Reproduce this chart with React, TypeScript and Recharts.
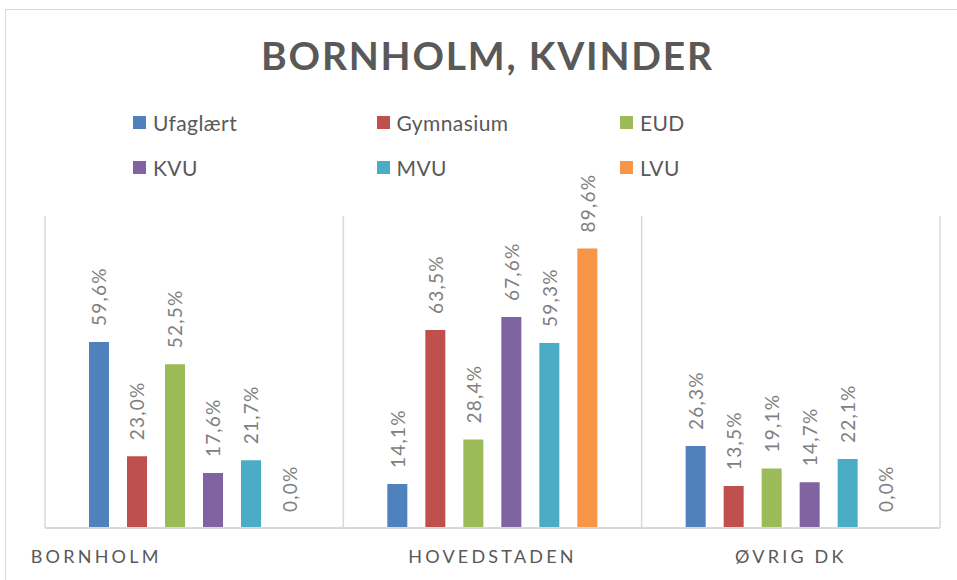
import React from "react";
import { BarChart, Bar, XAxis, YAxis, CartesianGrid, Rectangle } from "recharts";

const regions = ["BORNHOLM", "HOVEDSTADEN", "ØVRIG DK"];
const seriesNames = ["Ufaglært", "Gymnasium", "EUD", "KVU", "MVU", "LVU"];
const seriesColors = ["#4f81bd", "#c0504d", "#9bbb59", "#8064a2", "#4bacc6", "#f79646"];

const ufaglaert = [59.6, 14.1, 26.3];
const gymnasium = [23.0, 63.5, 13.5];
const eud = [52.5, 28.4, 19.1];
const kvu = [17.6, 67.6, 14.7];
const mvu = [21.7, 59.3, 22.1];
const lvu = [0.0, 89.6, 0.0];

const seriesValues = [ufaglaert, gymnasium, eud, kvu, mvu, lvu];

const data = regions.map((region, i) => {
  const row: Record<string, string | number> = { region };
  seriesNames.forEach((name, s) => {
    row[name] = seriesValues[s][i];
  });
  return row;
});

const FONT = "Lato, 'Open Sans', sans-serif";

function fmt(v: number) {
  return v.toFixed(1).replace(".", ",") + "%";
}

// bar plus its rotated value label (zero bars still get a label)
function BarWithLabel(props: any) {
  const { x, y, width, height, fill, value, dataKey, payload } = props;
  const v = Array.isArray(value) ? value[1] - value[0] : payload?.[dataKey] ?? value;
  const cx = x + width / 2;
  const cy = y - 16;
  return (
    <g>
      {height > 0 && <Rectangle x={x} y={y} width={width} height={height} fill={fill} />}
      <text
        x={cx}
        y={cy}
        transform={`rotate(-90 ${cx} ${cy})`}
        textAnchor="start"
        dominantBaseline="central"
        fill="#808080"
        fontSize={19}
        letterSpacing={1.2}
        fontFamily={FONT}
      >
        {fmt(Number(v))}
      </text>
    </g>
  );
}

function RegionTick(props: any) {
  const { x, y, payload, index } = props;
  // Excel pushed the first label to the left
  const shift = index === 0 ? -98 : 0;
  return (
    <text
      x={x + shift}
      y={y}
      dy={35}
      textAnchor="middle"
      fill="#595959"
      fontSize={18}
      letterSpacing={3.2}
      fontFamily={FONT}
    >
      {payload.value}
    </text>
  );
}

export default function App() {
  return (
    <div style={{ position: "absolute", left: 0, top: 0, width: 957, height: 580, overflow: "hidden", background: "#fff" }}>
      <div
        style={{
          position: "absolute",
          left: 5,
          top: 9,
          width: 970,
          height: 600,
          border: "1px solid #d9d9d9",
          boxSizing: "border-box",
        }}
      >
        <BarChart
          width={968}
          height={598}
          data={data}
          barSize={20}
          barGap={18}
          margin={{ top: 206, right: 34, left: 39, bottom: 50 }}
        >
          <CartesianGrid
            horizontal={false}
            stroke="#d9d9d9"
            strokeWidth={1.5}
            verticalCoordinatesGenerator={({ offset }: any) =>
              [0, 1, 2, 3].map((i) => offset.left + (offset.width * i) / regions.length)
            }
          />
          <XAxis
            dataKey="region"
            height={30}
            tickLine={false}
            tickSize={0}
            tickMargin={0}
            interval={0}
            axisLine={{ stroke: "#d9d9d9", strokeWidth: 2 }}
            tick={<RegionTick />}
          />
          <YAxis hide domain={[0, 100]} />
          {seriesNames.map((name, s) => (
            <Bar
              key={name}
              dataKey={name}
              fill={seriesColors[s]}
              isAnimationActive={false}
              shape={<BarWithLabel />}
            />
          ))}
        </BarChart>
      </div>
      <div
        style={{
          position: "absolute",
          left: 0,
          top: 36,
          width: 975,
          textAlign: "center",
          fontFamily: FONT,
          fontWeight: 700,
          fontSize: 39,
          lineHeight: "39px",
          letterSpacing: 1.8,
          color: "#595959",
        }}
      >
        BORNHOLM, KVINDER
      </div>
      {seriesNames.map((name, s) => (
        <div
          key={name}
          style={{
            position: "absolute",
            left: 133 + (s % 3) * 243.5,
            top: 112 + Math.floor(s / 3) * 45,
            height: 21,
            display: "flex",
            alignItems: "center",
            fontFamily: FONT,
            fontSize: 21,
            lineHeight: "21px",
            letterSpacing: 0.4,
            color: "#595959",
            whiteSpace: "nowrap",
          }}
        >
          <span style={{ width: 13, height: 13, background: seriesColors[s], marginRight: 7, display: "inline-block" }} />
          {name}
        </div>
      ))}
    </div>
  );
}
